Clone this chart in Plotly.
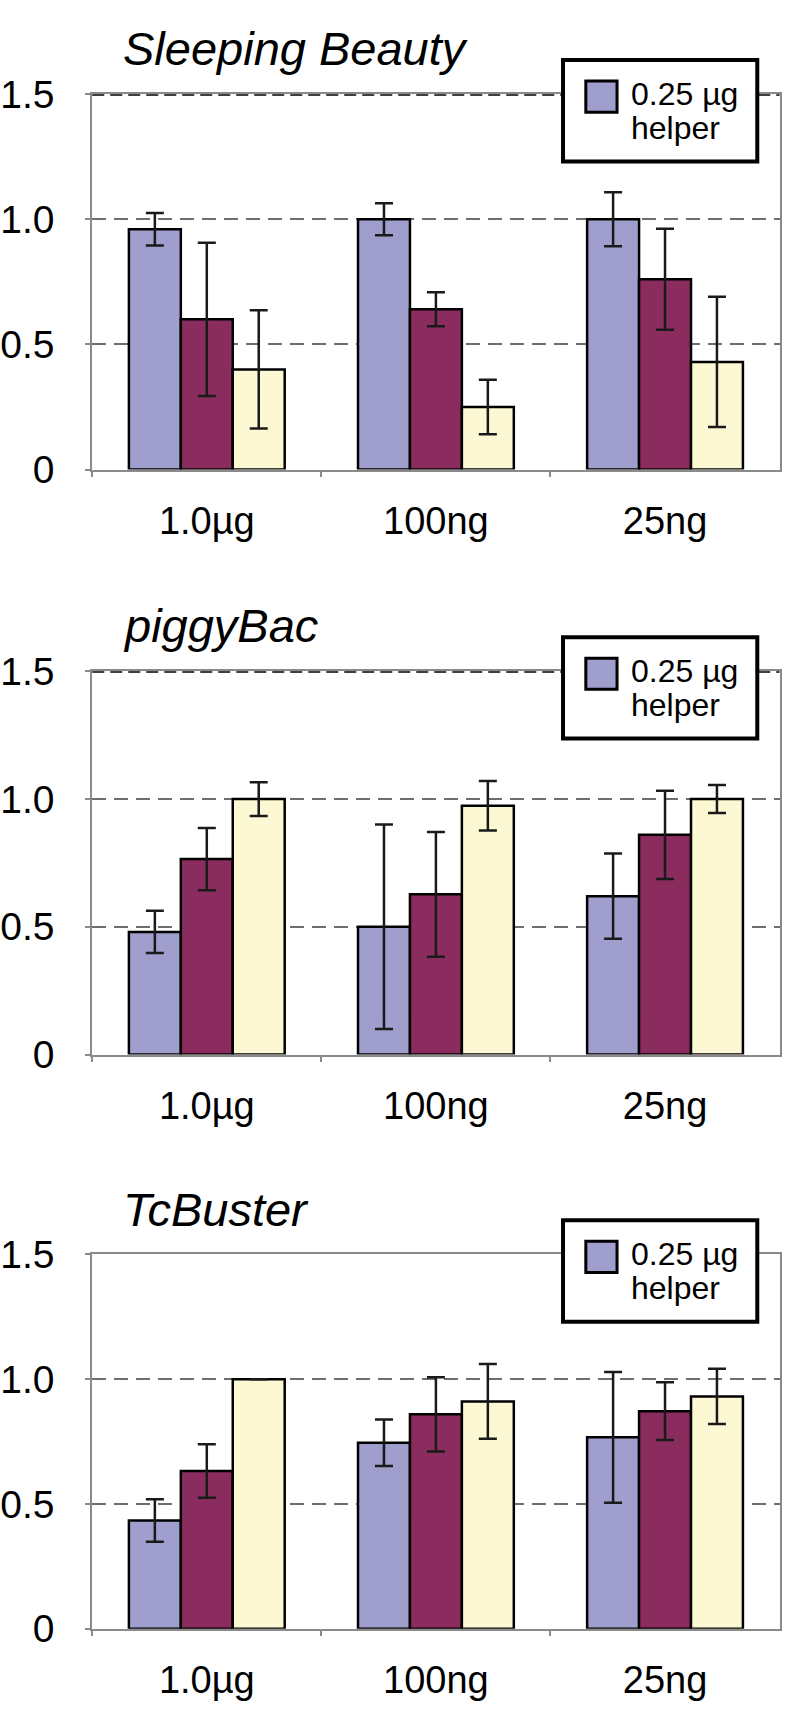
import plotly.graph_objects as go

# ---------------- data ----------------
categories = ["1.0µg", "100ng", "25ng"]
panel_titles = ["Sleeping Beauty", "piggyBac", "TcBuster"]
series_names = ["0.25 µg helper", "helper dose 2", "helper dose 3"]
series_colors = ["#9F9ECC", "#8B2C5E", "#FDF8D4"]
y_tick_vals = [0, 0.5, 1.0, 1.5]
y_tick_text = ["0", "0.5", "1.0", "1.5"]
legend_text_line1 = "0.25 µg"
legend_text_line2 = "helper"

# Sleeping Beauty
sb_s1 = [0.96, 1.00, 1.00]
sb_s1_err = [0.065, 0.064, 0.108]
sb_s2 = [0.60, 0.64, 0.76]
sb_s2_err = [0.306, 0.068, 0.202]
sb_s3 = [0.40, 0.25, 0.43]
sb_s3_err = [0.236, 0.109, 0.260]

# piggyBac
pb_s1 = [0.48, 0.50, 0.62]
pb_s1_err = [0.083, 0.400, 0.167]
pb_s2 = [0.765, 0.627, 0.860]
pb_s2_err = [0.122, 0.244, 0.173]
pb_s3 = [1.00, 0.974, 1.00]
pb_s3_err = [0.066, 0.097, 0.055]

# TcBuster
tc_s1 = [0.434, 0.745, 0.767]
tc_s1_err = [0.085, 0.093, 0.262]
tc_s2 = [0.632, 0.859, 0.872]
tc_s2_err = [0.107, 0.149, 0.116]
tc_s3 = [1.00, 0.911, 0.931]
tc_s3_err = [None, 0.150, 0.111]

panels = [
    [(sb_s1, sb_s1_err), (sb_s2, sb_s2_err), (sb_s3, sb_s3_err)],
    [(pb_s1, pb_s1_err), (pb_s2, pb_s2_err), (pb_s3, pb_s3_err)],
    [(tc_s1, tc_s1_err), (tc_s2, tc_s2_err), (tc_s3, tc_s3_err)],
]

# ---------------- layout geometry (pixels) ----------------
W, H = 789, 1720
PLOT_LEFT, PLOT_RIGHT = 86, 779.5
panel_px = [(75, 460), (667, 1060), (1265, 1649)]  # (y of 1.5 line, y of 0 line)
dashed_top = [True, True, False]


def px(x):
    return x / W


def py(y):
    return 1 - y / H


FONT = "Liberation Sans, Arial, Helvetica, sans-serif"
AXIS_GRAY = "#8a8a8a"

fig = go.Figure()
layout = dict(
    width=W, height=H,
    margin=dict(l=0, r=0, t=0, b=0),
    paper_bgcolor="white", plot_bgcolor="white",
    barmode="group", bargap=0.32, bargroupgap=0.0,
    showlegend=False,
    font=dict(family=FONT, color="black"),
)
shapes = []
annotations = []

for i, (series, (top_px, bot_px)) in enumerate(zip(panels, panel_px)):
    n = "" if i == 0 else str(i + 1)
    xa, ya = "x" + n, "y" + n
    for k, (vals, errs) in enumerate(series):
        fig.add_trace(go.Bar(
            x=categories, y=vals, name=series_names[k],
            xaxis=xa, yaxis=ya,
            marker=dict(color=series_colors[k], line=dict(color="black", width=2.5)),
            error_y=dict(type="data", array=errs, visible=True,
                         color="#1a1a1a", thickness=2.5, width=9),
            showlegend=False,
        ))
    layout["xaxis" + n] = dict(
        domain=[px(PLOT_LEFT), px(PLOT_RIGHT)], anchor=ya,
        type="category", range=[-0.5, 2.5],
        showline=True, linecolor=AXIS_GRAY, linewidth=2, mirror=True,
        ticks="outside", tickson="boundaries", ticklen=5, tickcolor=AXIS_GRAY, tickwidth=2,
        tickfont=dict(size=38, family=FONT, color="black"),
        ticklabelstandoff=17,
        showgrid=False, zeroline=False, fixedrange=True,
    )
    layout["yaxis" + n] = dict(
        domain=[py(bot_px), py(top_px)], anchor=xa,
        range=[0, 1.5], tickvals=y_tick_vals, ticktext=y_tick_text,
        showline=True, linecolor=AXIS_GRAY, linewidth=2, mirror=True,
        ticks="outside", ticklen=5, tickcolor=AXIS_GRAY, tickwidth=2,
        tickfont=dict(size=39, family=FONT, color="black"),
        ticklabelstandoff=23,
        showgrid=True, gridcolor="#6e6e6e", gridwidth=2, griddash="14px,8px",
        zeroline=False, fixedrange=True,
    )
    # darker dashed line at the top value for the first two panels
    if dashed_top[i]:
        shapes.append(dict(
            type="line", xref=xa + " domain", yref=ya, x0=0, x1=1,
            y0=y_tick_vals[-1], y1=y_tick_vals[-1],
            line=dict(color="black", width=3, dash="12px,6px"), layer="above",
        ))
    L = top_px
    # legend box
    shapes.append(dict(
        type="rect", xref="paper", yref="paper",
        x0=px(561), x1=px(757), y0=py(L + 69), y1=py(L - 35),
        line=dict(color="black", width=4), fillcolor="white", layer="above",
    ))
    shapes.append(dict(
        type="rect", xref="paper", yref="paper",
        x0=px(584), x1=px(615.5), y0=py(L + 18.5), y1=py(L - 13.5),
        line=dict(color="black", width=3), fillcolor=series_colors[0], layer="above",
    ))
    annotations.append(dict(
        text=legend_text_line1, xref="paper", yref="paper",
        x=px(628), y=py(L - 0.5), xanchor="left", yanchor="middle",
        showarrow=False, font=dict(size=32, family=FONT, color="black"),
    ))
    annotations.append(dict(
        text=legend_text_line2, xref="paper", yref="paper",
        x=px(628), y=py(L + 34.5), xanchor="left", yanchor="middle",
        showarrow=False, font=dict(size=32, family=FONT, color="black"),
    ))
    # panel title
    annotations.append(dict(
        text="<i>" + panel_titles[i] + "</i>", xref="paper", yref="paper",
        x=px(115), y=py(L - 46.5), xanchor="left", yanchor="middle",
        showarrow=False, font=dict(size=47, family=FONT, color="black"),
    ))

layout["shapes"] = shapes
layout["annotations"] = annotations
fig.update_layout(**layout)
fig.write_html(
    "out.html",
    config={"displayModeBar": False, "staticPlot": True, "responsive": False},
    post_script=(
        "document.body.style.margin='0';document.body.style.padding='0';"
        "document.body.style.overflow='hidden';"
        "document.documentElement.style.overflow='hidden';"
    ),
)
